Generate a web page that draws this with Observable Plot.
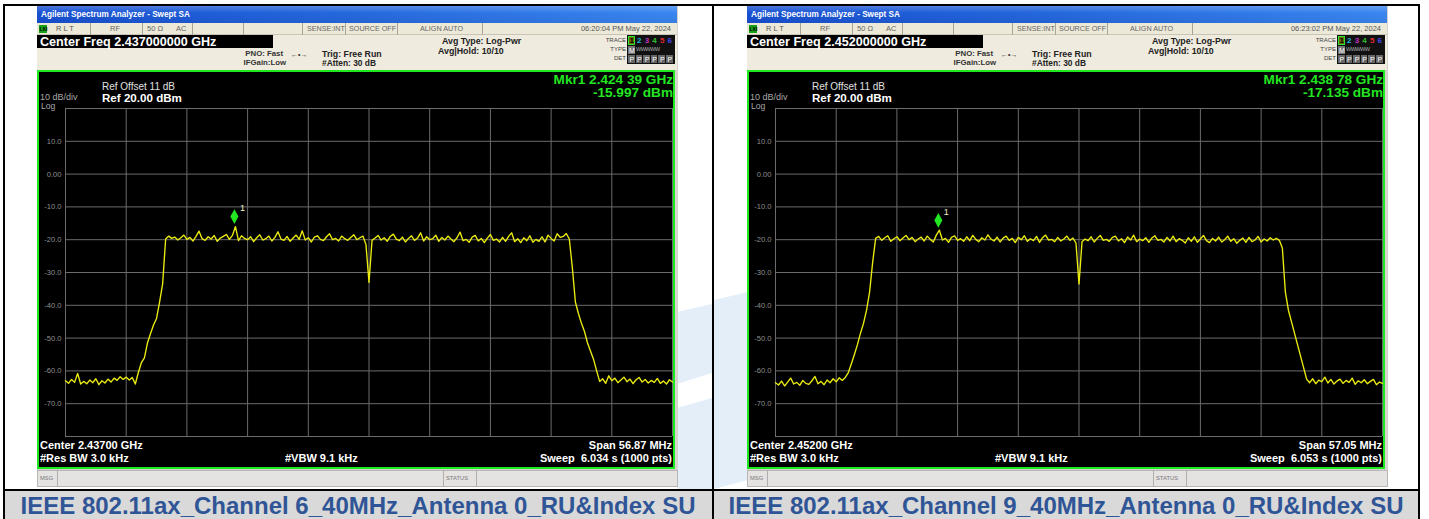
<!DOCTYPE html>
<html><head><meta charset="utf-8">
<script src="https://cdn.jsdelivr.net/npm/d3@7"></script>
<script src="https://cdn.jsdelivr.net/npm/@observablehq/plot@0.6"></script>
<style>
html,body{margin:0;padding:0;background:#fff;}
body{width:1429px;height:519px;overflow:hidden;position:relative;font-family:"Liberation Sans",Arial,sans-serif;}
#root{position:absolute;left:0;top:0;width:1429px;height:519px;}
svg{display:block;}
</style></head>
<body><div id="root"></div>
<script>
// ---------------- DATA ----------------
const centersGHz = [2.437, 2.452];
const spansMHz = [56.87, 57.05];
const sweepTimes = ["6.034", "6.053"];
const timestamps = ["06:20:04 PM May 22, 2024", "06:23:02 PM May 22, 2024"];
const markerFreqsGHz = [2.42439, 2.43878];
const markerLevels = [-15.997, -17.135];
const captions = ["IEEE 802.11ax_Channel 6_40MHz_Antenna 0_RU&Index SU",
                  "IEEE 802.11ax_Channel 9_40MHz_Antenna 0_RU&Index SU"];
const yTicks = [10, 0, -10, -20, -30, -40, -50, -60, -70];
const yTickLabels = ["10.0", "0.00", "-10.0", "-20.0", "-30.0", "-40.0", "-50.0", "-60.0", "-70.0"];
const refLevel = 20, dbPerDiv = 10, divisions = 10;

// trace levels (dBm), evenly spaced sweep points across the span
const levelsCh6 = [
 -63.0,-63.8,-62.6,-63.5,-60.8,-64.0,-63.2,-63.9,-62.8,-63.6,
 -62.4,-64.2,-63.0,-63.7,-62.5,-63.4,-62.2,-62.9,-61.8,-62.6,
 -61.9,-62.8,-62.0,
 -64.0,
 -60.5,-57.5,-56.0,-51.5,-48.7,-46.0,-44.0,-39.0,-33.5,
 -19.8,-18.9,-19.6,-19.2,-20.1,-19.4,-18.6,-19.9,-19.3,-20.4,
 -19.0,-17.4,-19.7,-20.2,-19.1,-19.8,-18.7,-20.5,-19.5,-19.0,
 -18.4,-19.9,-18.7,-16.0,-20.3,-18.8,-19.6,-20.0,-19.1,-20.6,
 -19.4,-18.5,-20.1,-19.7,-18.9,-20.4,-19.3,-17.6,-19.8,-20.2,
 -19.0,-20.5,-19.5,-18.6,-19.9,-17.3,-20.1,-19.4,-20.7,-19.2,
 -18.8,-19.9,-20.3,-19.1,-18.2,-20.0,-19.6,-20.4,-18.9,-19.7,
 -20.2,-19.3,-18.5,-20.0,-19.4,-18.9,-21.5,-33.0,-20.2,-19.5,
 -18.7,-20.1,-19.4,-20.5,-19.0,-18.3,-19.8,-20.3,-19.2,-20.7,
 -19.6,-18.8,-20.2,-19.5,-17.9,-20.4,-19.1,-20.0,-19.7,-18.6,
 -20.5,-19.3,-20.1,-18.9,-19.8,-20.6,-19.4,-17.7,-20.3,-19.9,
 -20.8,-19.2,-18.7,-20.4,-19.6,-20.9,-19.5,-18.4,-20.2,-19.8,
 -20.7,-19.3,-20.5,-19.0,-17.9,-20.6,-19.7,-20.9,-19.4,-20.3,
 -18.8,-20.8,-19.9,-20.5,-19.1,-20.7,-18.6,-19.6,-20.4,-18.2,
 -19.3,-19.0,-18.1,-19.8,
 -28.5,-39.0,-42.5,-45.5,-48.0,-51.5,-54.0,-56.5,-60.0,-63.2,
 -62.4,-63.8,-61.5,-63.0,-62.2,-63.6,-62.8,-61.9,-63.3,-62.5,
 -63.9,-62.7,-62.0,-63.4,-62.6,-63.7,-62.9,-63.5,-62.3,-63.8,
 -63.1,-64.0,-62.7,-63.4
];
const levelsCh9 = [
 -63.6,-64.3,-63.1,-64.6,-63.4,-62.2,-64.0,-63.5,-64.4,-62.9,
 -63.8,-64.1,-63.0,-61.7,-63.9,-63.2,-64.2,-62.8,-63.6,-62.4,
 -63.3,-62.1,-62.9,
 -62.0,-60.5,-57.8,-55.0,-52.0,-48.5,-45.5,-41.5,-36.0,-27.0,
 -19.6,-19.0,-20.2,-19.4,-18.8,-20.5,-19.7,-19.1,-20.3,-19.5,
 -18.7,-20.0,-19.3,-20.6,-19.8,-19.2,-20.4,-18.9,-19.9,-20.7,
 -18.6,-17.1,-20.1,-19.6,-20.8,-19.3,-18.8,-20.2,-19.7,-20.5,
 -19.1,-20.3,-18.7,-19.9,-20.6,-19.4,-20.1,-18.5,-19.8,-20.4,
 -19.2,-20.7,-19.5,-18.9,-20.2,-19.6,-20.9,-19.3,-20.0,-18.8,
 -20.5,-19.7,-20.3,-19.0,-20.8,-19.4,-18.6,-20.1,-19.9,-20.6,
 -19.3,-20.4,-19.8,-18.9,-20.2,-19.5,-21.0,-33.5,-20.6,-19.8,
 -20.3,-19.1,-20.7,-19.6,-18.7,-20.2,-19.9,-20.5,-19.3,-18.9,
 -20.4,-19.7,-20.9,-19.2,-20.1,-18.6,-20.6,-19.8,-20.3,-19.4,
 -20.8,-19.5,-18.8,-20.2,-19.9,-20.7,-19.3,-20.4,-18.9,-20.6,
 -19.7,-20.2,-21.0,-19.4,-20.5,-19.1,-20.8,-19.8,-18.7,-20.3,
 -20.9,-19.6,-20.4,-19.2,-20.7,-20.0,-18.9,-20.5,-19.7,-21.1,
 -20.2,-19.5,-20.8,-19.3,-20.6,-20.1,-19.0,-20.7,-19.8,-20.4,
 -19.4,-20.1,-19.6,-20.2,
 -22.5,-36.0,-41.5,-45.0,-48.5,-52.0,-55.5,-59.0,-62.5,
 -63.6,-62.4,-63.9,-62.8,-63.3,-61.9,-63.7,-62.6,-64.0,-63.1,
 -62.5,-63.8,-62.9,-63.5,-62.2,-64.1,-63.0,-63.6,-62.7,-63.9,
 -63.2,-62.6,-64.2,-63.4,-63.8
];
const traces = [levelsCh6, levelsCh9];

// ---------------- HELPERS ----------------
const root = document.getElementById("root");
const FONT = '"Liberation Sans",Arial,sans-serif';
function box(x, y, w, h, css) {
  const e = document.createElement("div");
  e.style.cssText = `position:absolute;left:${x}px;top:${y}px;width:${w}px;height:${h}px;box-sizing:border-box;${css || ""}`;
  root.appendChild(e);
  return e;
}
function txt(x, yc, s, o = {}) {
  const e = document.createElement("div");
  const tx = o.anchor === "end" ? "-100%" : o.anchor === "middle" ? "-50%" : "0";
  e.style.cssText = `position:absolute;left:${x}px;top:${yc}px;white-space:pre;line-height:1;` +
    `font-size:${o.size || 9}px;font-weight:${o.weight || "normal"};color:${o.color || "#000"};` +
    `font-family:${FONT};transform:translate(${tx},-50%);${o.css || ""}`;
  e.textContent = s;
  (o.parent || root).appendChild(e);
  return e;
}
function mkrFmt(g) { const s = g.toFixed(5); return s.slice(0, 5) + " " + s.slice(5); }

// ---------------- WATERMARK ----------------
const wm = document.createElementNS("http://www.w3.org/2000/svg", "svg");
wm.setAttribute("width", 1429); wm.setAttribute("height", 519);
wm.style.cssText = "position:absolute;left:0;top:0;";
wm.innerHTML = `
 <polygon points="677,312 712,304 712,373 677,384" fill="#e3eef9"/>
 <polygon points="677,408 712,398 712,489 677,489" fill="#e3eef9"/>
 <polygon points="714,300 748,292 748,480 714,489" fill="#e3eef9"/>`;
root.appendChild(wm);

// ---------------- TABLE ----------------
box(5, 491, 707, 28, "background:#d9d9d9");
box(714, 491, 704, 28, "background:#d9d9d9");
box(3, 4, 1417, 2, "background:#000");
box(3, 489, 1417, 2, "background:#000");
box(3, 4, 2, 515, "background:#000");
box(712, 4, 2, 515, "background:#000");
box(1418, 4, 2, 515, "background:#000");
txt(358, 505.5, captions[0], {size: 24, weight: "bold", color: "#2f5597", anchor: "middle"});
txt(1066, 505.5, captions[1], {size: 24, weight: "bold", color: "#2f5597", anchor: "middle"});

// ---------------- PANELS ----------------
function panel(k, ox) {
  const centerG = centersGHz[k], span = spansMHz[k];
  const centerM = centerG * 1000;
  const start = centerM - span / 2, end = centerM + span / 2;
  const lv = traces[k];
  const step = span / (lv.length - 1);
  const trace = lv.map((v, i) => ({f: start + i * step, v}));
  const marker = [{f: markerFreqsGHz[k] * 1000, v: markerLevels[k]}];

  // screenshot base
  box(ox + 37, 6, 641, 481, "background:#d6d3ce");
  // title bar
  box(ox + 37, 6, 640, 17, "background:linear-gradient(to right,#1850d2 0%,#2466dc 45%,#3a86f0 100%)");
  box(ox + 37, 6, 640, 17, "background:linear-gradient(to bottom,rgba(255,255,255,0.22),rgba(255,255,255,0) 40%,rgba(0,0,0,0.06))");
  txt(ox + 41, 15, "Agilent Spectrum Analyzer - Swept SA", {size: 8.2, weight: "bold", color: "#fff"});
  // status row
  box(ox + 37, 23, 640, 12, "background:#ece9d8;border-bottom:1px solid #c8c4b6");
  box(ox + 39, 25, 8, 8, "background:#17a017");
  txt(ox + 39.5, 29, "LXI", {size: 5, weight: "bold", color: "#000"});
  txt(ox + 56, 29, "R L T", {size: 7.5, color: "#555"});
  [90, 142, 192, 243, 302, 345, 397, 482].forEach(x => box(ox + x, 23, 1, 12, "background:#a9a59a"));
  txt(ox + 110, 29, "RF", {size: 7.5, color: "#666"});
  txt(ox + 147, 29, "50 Ω", {size: 7.5, color: "#666"});
  txt(ox + 176, 29, "AC", {size: 7.5, color: "#666"});
  txt(ox + 307, 29, "SENSE:INT", {size: 7.2, color: "#666"});
  txt(ox + 349, 29, "SOURCE OFF", {size: 7.2, color: "#666"});
  txt(ox + 420, 29, "ALIGN AUTO", {size: 7.2, color: "#666"});
  txt(ox + 671, 29, timestamps[k], {size: 7.5, color: "#555", anchor: "end"});
  // control panel
  box(ox + 37, 35, 640, 35, "background:#efebdf");
  box(ox + 37, 35, 236, 13, "background:#000");
  txt(ox + 40, 41.5, "Center Freq " + centerG.toFixed(9) + " GHz", {size: 12.6, weight: "bold", color: "#fff"});
  txt(ox + 283, 53.5, "PNO: Fast", {size: 7.8, weight: "bold", color: "#333", anchor: "end"});
  txt(ox + 286, 62.5, "IFGain:Low", {size: 7.8, weight: "bold", color: "#333", anchor: "end"});
  txt(ox + 291, 53.5, "←•→", {size: 7, weight: "bold", color: "#333"});
  txt(ox + 322, 53.5, "Trig: Free Run", {size: 8.8, weight: "bold", color: "#222"});
  txt(ox + 322, 62.5, "#Atten: 30 dB", {size: 8.4, weight: "bold", color: "#222"});
  txt(ox + 442, 40.5, "Avg Type: Log-Pwr", {size: 8.8, weight: "bold", color: "#222"});
  txt(ox + 438, 51, "Avg|Hold: 10/10", {size: 8.8, weight: "bold", color: "#222"});
  txt(ox + 626, 40, "TRACE", {size: 6, color: "#444", anchor: "end"});
  txt(ox + 626, 48.5, "TYPE", {size: 6, color: "#444", anchor: "end"});
  txt(ox + 626, 58, "DET", {size: 6, color: "#444", anchor: "end"});
  box(ox + 627, 35, 48, 29, "background:#111");
  const tc = ["#f0f000", "#20b8d8", "#c030c0", "#30c030", "#e02828", "#4848f0"];
  tc.forEach((c, j) => {
    if (j === 0) box(ox + 628, 36, 7, 9, "background:#6b6b00;border:1px solid #30e030");
    txt(ox + 629.5 + j * 7.6, 40.5, String(j + 1), {size: 8, weight: "bold", color: j === 0 ? "#000" : c});
  });
  box(ox + 628, 46, 7, 8, "background:#777");
  txt(ox + 629, 50, "M", {size: 7, color: "#fff"});
  txt(ox + 636, 50, "WWWWW", {size: 5.6, color: "#aaa", css: "letter-spacing:-0.6px"});
  for (let j = 0; j < 6; j++) {
    box(ox + 628 + j * 7.6, 55, 6.5, 8, "background:#666");
    txt(ox + 629.5 + j * 7.6, 59, "P", {size: 7, color: "#fff"});
  }
  // display
  const disp = box(ox + 37, 70, 638, 399, "background:#000;border:2px solid #1ee81e");
  const holder = document.createElement("div");
  holder.style.cssText = "position:absolute;left:0;top:0;";
  disp.appendChild(holder);

  const yLab = new Map(yTicks.map((t, i) => [t, yTickLabels[i]]));
  const xGrid = d3.range(divisions + 1).map(j => start + j * span / divisions);
  const yGrid = d3.range(divisions + 1).map(j => refLevel - j * dbPerDiv);
  const tallDiamond = {
    draw(ctx, size) {
      const r = Math.sqrt(size / Math.PI);
      ctx.moveTo(0, -r * 1.05); ctx.lineTo(r * 0.58, 0); ctx.lineTo(0, r * 1.05); ctx.lineTo(-r * 0.58, 0); ctx.closePath();
    }
  };
  const chart = Plot.plot({
    width: 634, height: 395,
    marginLeft: 26, marginRight: 1, marginTop: 36, marginBottom: 31,
    style: {background: "#000", fontFamily: FONT, overflow: "visible"},
    x: {domain: [start, end], axis: null},
    y: {domain: [refLevel - divisions * dbPerDiv, refLevel], axis: null},
    marks: [
      Plot.ruleX(xGrid, {stroke: "#6c6c6c", strokeWidth: 1}),
      Plot.ruleY(yGrid, {stroke: "#6c6c6c", strokeWidth: 1}),
      Plot.text(yTicks, {y: d => d, frameAnchor: "left", text: d => yLab.get(d), textAnchor: "end", dx: -4, fill: "#8f8f8f", fontSize: 7.6}),
      Plot.line(trace, {x: "f", y: "v", stroke: "#ecec10", strokeWidth: 1.35, strokeLinejoin: "round"}),
      Plot.dot(marker, {x: "f", y: "v", symbol: tallDiamond, r: 7, fill: "#22e622", stroke: "none", dy: -10}),
      Plot.text(marker, {x: "f", y: "v", text: () => "1", dx: 8, dy: -18, fill: "#f0f0c8", fontSize: 9})
    ]
  });
  holder.appendChild(chart);

  // display annotations
  txt(ox + 102, 86.5, "Ref Offset 11 dB", {size: 10, color: "#e0e0e0"});
  txt(ox + 40, 97, "10 dB/div", {size: 9, color: "#a8a8a8"});
  txt(ox + 102, 98.2, "Ref " + refLevel.toFixed(2) + " dBm", {size: 11.6, weight: "bold", color: "#fff"});
  txt(ox + 41, 106.2, "Log", {size: 8.6, color: "#a8a8a8"});
  txt(ox + 673, 79.5, "Mkr1 " + mkrFmt(markerFreqsGHz[k]) + " GHz", {size: 13.6, weight: "bold", color: "#22e622", anchor: "end"});
  txt(ox + 673, 93.3, markerLevels[k].toFixed(3) + " dBm", {size: 13.6, weight: "bold", color: "#22e622", anchor: "end"});
  txt(ox + 40, 444.8, "Center " + centerG.toFixed(5) + " GHz", {size: 11, weight: "bold", color: "#fff"});
  txt(ox + 40, 458, "#Res BW 3.0 kHz", {size: 11, weight: "bold", color: "#fff"});
  txt(ox + 285, 458, "#VBW 9.1 kHz", {size: 11, weight: "bold", color: "#fff"});
  txt(ox + 672, 444.8, "Span " + span.toFixed(2) + " MHz", {size: 11, weight: "bold", color: "#fff", anchor: "end"});
  txt(ox + 672, 458, "Sweep  " + sweepTimes[k] + " s (1000 pts)", {size: 11, weight: "bold", color: "#fff", anchor: "end"});
  // message bar
  box(ox + 37, 470, 641, 17, "background:#e5e2e2;border:1px solid #b9b6b6");
  box(ox + 57, 470, 1, 17, "background:#b0adad");
  box(ox + 443, 470, 1, 17, "background:#b0adad");
  box(ox + 476, 470, 1, 17, "background:#b0adad");
  txt(ox + 40, 478.5, "MSG", {size: 5.8, color: "#777"});
  txt(ox + 446, 478.5, "STATUS", {size: 5.8, color: "#777"});
}
panel(0, 0);
panel(1, 710);
</script>
</body></html>
